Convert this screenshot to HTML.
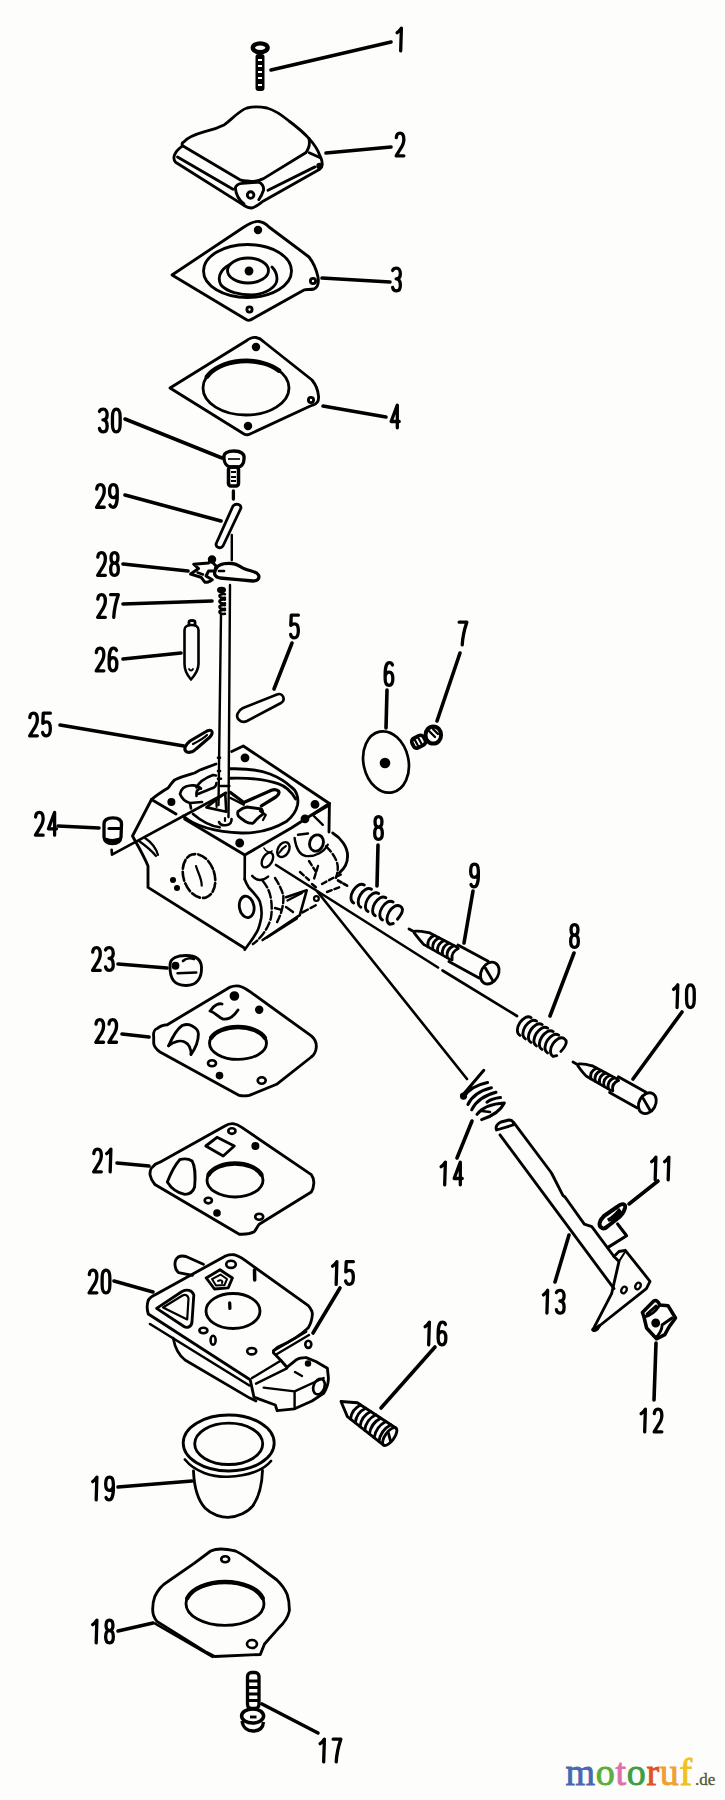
<!DOCTYPE html>
<html><head><meta charset="utf-8"><style>
html,body{margin:0;padding:0;background:#fdfefc;}
body{width:725px;height:1800px;overflow:hidden;}
svg{display:block;}
.l{fill:none;stroke:#000;stroke-width:2.85;stroke-linecap:round;stroke-linejoin:round;}
.t{fill:none;stroke:#000;stroke-width:1.8;stroke-linecap:round;stroke-linejoin:round;}
.k{fill:none;stroke:#000;stroke-width:3.6;stroke-linecap:round;}
.f{fill:#000;}
.n{font-family:"Liberation Sans",sans-serif;font-weight:bold;font-size:30px;fill:#000;}
</style></head><body>
<svg width="725" height="1800" viewBox="0 0 725 1800">
<rect width="725" height="1800" fill="#fdfefc"/>
<!-- PARTS -->
<g id="p1">
<ellipse cx="260.2" cy="47.8" rx="7.4" ry="4.4" fill="none" stroke="#000" stroke-width="4.40"/>
<rect x="255.5" y="54" width="9" height="37" rx="3" fill="#000"/>
<path d="M258,60 h4 M258,66 h4 M258,72 h4 M258,78 h4 M258,85 h4" stroke="#fff" stroke-width="1.76"/>
</g>
<g id="p2" class="l">
<path d="M183.6,142.1 C187,138 193,135 204.7,131.7 C212,130 218,128 224.5,124.7 C232,119 240,110 247,108 C253,106.5 262,107 267,108 C274,110 283,116 289,121 C297,127 304,133 308.9,138.4 C310,143 309.5,148 305.7,152.8 L263.5,178.6 C258,181 251,182 247,181 C244,181 242,180.5 240,179.8 L182.6,145.8 C181.5,144 182,143 183.6,142.1 Z"/>
<path d="M182.6,145.8 C178,149 175.5,152 174.4,155.2 C173.5,158 174,160.5 175.6,162.2 L242.4,204.4 C246,207 249,208 251.8,208 C256,207 259,204 263.5,200.9 L319.7,169.2 C322,167 322.5,166 322,164.5"/>
<path d="M177.5,157 L233,189.2"/>
<path d="M268,190.3 L315,166.9"/>
<path d="M308.9,138.4 C314,144 318,150 320,156 C322,160 322.5,162 322,164.5"/>
<path d="M309.2,152.8 L319.7,157.5"/>
<path d="M235.3,188 C236,185 239,183.5 242.4,183.3 L258.8,182.1 C262,183 264,187 263.5,190.3 C262,195 260,198 258.8,199.7"/>
<path d="M235.3,188 C236,195 240,201 244,204"/>
<circle cx="250.6" cy="195" r="3.3"/>
<circle cx="319.5" cy="166" r="1.8" class="f"/>
</g>
<g id="p3" class="l">
<path d="M172,275 L244,227 C250,223 254,221 259,221.5 C263,222 266,224 269,227 L309,257 C313,262 316,268 318,277 C319,283 318,287 314,289 C310,290 306,289 304,290 L254,318 C251,320 249,321 247,320 Z"/>
<circle cx="258" cy="230" r="2.8" class="f"/>
<circle cx="249.5" cy="309.5" r="2.6"/>
<circle cx="313" cy="281" r="2.6"/>
<ellipse cx="247.5" cy="271" rx="44" ry="26.5"/>
<ellipse cx="248" cy="270.5" rx="20.5" ry="12.5"/>
<path d="M229,265 C220,270 217,278 221,285 C227,292 240,295 252,295 C266,294 277,287 277,279 C277,274 275,270 272,267"/>
<circle cx="249" cy="271" r="3" class="f"/>
</g>
<g id="p4" class="l">
<path d="M170,388 L246,341 C250,338 253,337 256,337.5 C259,338 262,340 264,342 L312,380 C316,385 318,390 318.5,396 C319,401 317,404 313,405 C310,406 308,407 306,408 L250,434 C248,435 246,435 244,434 Z"/>
<circle cx="256" cy="347" r="2.8" class="f"/>
<circle cx="311" cy="400" r="2.6"/>
<circle cx="248" cy="426" r="2.8" class="f"/>
<ellipse cx="246" cy="388" rx="43" ry="27"/>
<path d="M207,376.6 A43,27 0 0 1 279,370.6" stroke-width="4.62"/>
</g>

<g id="p30">
<path d="M224,458 C223,453 228,451 234,451 C241,451 245,454 244,459 C244,464 241,467 238,467 L230,467 C226,466 224,462 224,458 Z" fill="none" stroke="#000" stroke-width="3.30"/>
<path d="M228,459 h12" stroke="#000" stroke-width="1.65"/>
<rect x="228.5" y="467" width="10" height="19" rx="2.5" fill="none" stroke="#000" stroke-width="3.52"/>
<path d="M231,472 h5 M231,477 h5 M231,481 h5" stroke="#000" stroke-width="1.76"/>
<path d="M233.4,491 v8" stroke="#000" stroke-width="3.30" stroke-linecap="round"/>
</g>
<g id="p29" class="l">
<path d="M233,506 C236,503 241,504 241,508 L223,546 C221,549 216,548 216,544 Z" stroke-width="2.8"/>
</g>
<g id="p28" class="l">
<path d="M216,569 C218,564 226,563 232,563.5 C238,564 240,567 245,569 C250,571 256,571 258.5,575 C260,579 257,581 253,581 L238,579.6 L220,578 C215,577 213,574 216,569 Z" stroke-width="3.30"/>
<path d="M219,571 h5" stroke-width="2.64"/>
<path d="M193.7,564.2 L208.6,563 L210.4,560 L216,566 L214.8,571 L208.6,571 L206,576 L212.3,579.7 C210,582 206,582.5 204.8,582.2 L201,577.2 L190.6,574.1 L198.6,568.6 Z" stroke-width="3"/>
<path d="M197.5,572.5 L203,574.5" stroke-width="2.4"/>
<circle cx="212" cy="559.5" r="2.8" class="f"/>
</g>
<g id="rod" class="t">
<path d="M231.8,535 L231.8,560" stroke-width="2.42"/>
<path d="M230,585 L228.5,817" stroke-width="2.42"/>
<path d="M221,614 L218.5,805" stroke-width="2.42"/>
</g>
<g id="p27">
<path d="M225,594.2 C217.5,593.2 217.5,598.8 225,597.8 M225,599.7 C217.5,598.7 217.5,604.3 225,603.3 M225,605.2 C217.5,604.2 217.5,609.8 225,608.8 M225,610.2 C217.5,609.2 217.5,614.8 225,613.8" fill="none" stroke="#000" stroke-width="2.5" stroke-linecap="round"/>
<path d="M218,590 C218,587 225,587 225,590 C225,593 218,593 218,590 Z" fill="#000" stroke="#000" stroke-width="2"/>
</g>
<g id="p26" class="l">
<path d="M184.5,630 C184.5,626.5 188,625 191.5,625 C195,625 198.5,626.5 198.5,630 L198.5,664 C198.5,670 195,675 191,679.5 C187,675 184.5,670 184.5,664 Z" stroke-width="2.6"/>
<path d="M189,625 L189,622 C189,620 195,620 195,622 L195,625" stroke-width="2.86"/>
<path d="M189,669 C190,671 192,671 193,669" stroke-width="1.76"/>
</g>
<g id="p5" class="l">
<path d="M243,708 L277,694.5 C283,692 286,700 281,703 L247,721 C241,724 235,718 238,713 C239,711 241,709 243,708 Z" stroke-width="2.6"/>
</g>
<g id="p25" class="l">
<path d="M187,752 C183,750 185,745 190,741 L207,731 C212,729 214,732 210,737 L196,749 C193,752 190,753 187,752 Z" stroke-width="3.08"/>
<path d="M193,744 C197,742 203,739 207,735" stroke-width="2.20"/>
</g>
<g id="p24" class="l">
<path d="M104,824 C104,819 108,817.8 113,817.8 C118,817.8 121.5,819 121.5,824 L121,837 C120.5,841.5 117,843.5 112.5,843.5 C107.5,843.5 104.5,841.5 104,837 Z" stroke-width="3.30"/>
<path d="M109,828.5 h12" stroke-width="3.08"/>
<path d="M106.5,839.5 C110,841 115,841 119,839.5" stroke-width="3.52"/>
</g>
<g id="p6">
<ellipse cx="386" cy="762" rx="22.5" ry="31" transform="rotate(-12 386 762)" fill="none" stroke="#000" stroke-width="2.7"/>
<circle cx="385" cy="763" r="5.3" fill="#000"/>
</g>
<g id="p7" class="l">
<g transform="translate(420,741) rotate(-28)">
<rect x="-8" y="-5.2" width="13" height="10.4" rx="3.5" stroke-width="3.74"/>
<path d="M-4,-3 L-4,3 M0,-3.5 L0,3.5" stroke-width="2.20"/>
</g>
<ellipse cx="433.3" cy="735" rx="7.8" ry="8.6" stroke-width="3.96"/>
<path d="M429,731 L435,737 M433,729 L438,734" stroke-width="2.42"/>
</g>

<g id="body" class="l">
<!-- top face outline -->
<path d="M151.5,799.5 C158,794 163,791 168,788 C171,784 173,781 175,779.7 C181,777 188,775 194.6,773 C198,771 200,770 201,769.7 L216,764" stroke-width="2.86"/>
<path d="M231.7,751.5 L243.3,746 L329.4,803.5" stroke-width="2.86"/>
<path d="M151.5,799.5 L176,814 M184.6,819 L244.8,855 L291.7,827.7 L329.4,803.5" stroke-width="2.86"/>
<!-- left face -->
<path d="M151.5,799.5 L132.5,836 C138,846 144,856 148,866 L148,887.4 L244.8,948.3" stroke-width="2.86"/>
<path d="M244.8,855 L244.7,879.3" stroke-width="2.64"/>
<path d="M139,841 C146,846 152,851 156,856" stroke-width="2.20"/>
<path d="M145,838 C151,842 156,848 158,855" stroke-width="2.20"/>
<ellipse cx="199" cy="876" rx="15.5" ry="22.5" transform="rotate(-18 199 876)" stroke-width="2.64" stroke-dasharray="9 3"/>
<path d="M196,866 C198,873 202,879 201.7,885.6" stroke-width="2.20"/>
<circle cx="173" cy="880" r="1.6" class="f"/>
<circle cx="177" cy="888" r="1.6" class="f"/>
<ellipse cx="246.7" cy="906.9" rx="7.3" ry="10.8" transform="rotate(-10 246.7 906.9)" stroke-width="2.86"/>
<!-- top face features -->
<circle cx="171.4" cy="802" r="2.6" class="f"/>
<circle cx="245" cy="757.8" r="3" class="f"/>
<circle cx="315" cy="804.4" r="3" class="f"/>
<circle cx="305" cy="818.8" r="3" class="f"/>
<circle cx="239.7" cy="843" r="3" class="f"/>
<path d="M183.2,816 C195,826 215,832 241.5,833 C258,833.4 272,830 286.8,821.2 C292,817 296,812 297.5,805 C299,797 296,790 291.2,787 C286,782 280,778 270,774 C260,770 245,768.5 230.5,768.8" stroke-width="2.86"/>
<path d="M193,814 C200,820 210,826 219.7,827.3" stroke-width="2.64"/>
<path d="M230.5,778.2 C245,777.8 265,779 278,783.7 C285,786 291,791 295.6,799" stroke-width="2.86"/>
<path d="M230.5,792.5 L243.8,802.5 L271.4,790.3 C275,789 279,790 279,792.5 C279,795 277,796 275.8,797 L261.4,805.8" stroke-width="3.30"/>
<path d="M230.5,798 L243.8,804.7" stroke-width="2.42"/>
<path d="M238.2,811.3 C241,809 244,807.5 247,807 L261.4,809 C263,811 263,813 262.5,814.6 C260,816 258,818 257,819 C255,821 254,822.5 252.6,823.4 C250,823.5 247,822.5 244.9,821.2 C242,819 239,817 238.2,815.7 C237.5,814 237.5,812.5 238.2,811.3 Z" stroke-width="2.86"/>
<path d="M260,811 L265.8,815 L263,820" stroke-width="2.20"/>
<path d="M206.4,807.4 L225.2,793 L226.3,811.8 Z" stroke-width="2.64"/>
<path d="M216.4,802 L216.6,807" stroke-width="2.20"/>
<path d="M219,822 C220,825 224,825.5 227,825 C230,824.5 232,822 231.5,819" stroke-width="2.64"/>
<path d="M225,818 L225,821" stroke-width="2.20"/>
<path d="M180,794 C181,789 185,786 190,785.5 C194,785 199,786 201,788.6 M180,794 C182,799 186,802 190,803 L202,802 M196.5,796 C196,792 197,790 199,789 M191,808.5 L190,803" stroke-width="2.64"/>
<path d="M196.5,787.5 C199,782 205,778 213,775 L216,775.5 M197.6,794 C203,792 210,789 214,787.5 C216,786 216.5,784 216.4,783" stroke-width="2.64"/>
<path d="M218,757.7 h2 M218,771 h2 M218,778.7 h3 M220.8,786 h8.5" stroke-width="2.64"/>
<path d="M329,805.5 L312.8,815 L322.8,824.8" stroke-width="2.42"/>
<!-- right face -->
<path d="M329.4,803.5 L329,832" stroke-width="2.86"/>
<ellipse cx="267.4" cy="860" rx="4.8" ry="8" transform="rotate(30 267.4 860)" stroke-width="2.42"/>
<ellipse cx="283.4" cy="849.6" rx="5.5" ry="8" transform="rotate(30 283.4 849.6)" stroke-width="2.42"/>
<path d="M279,853 C281,850 284,847 286,846" stroke-width="1.98"/>
<ellipse cx="316.5" cy="843" rx="6.8" ry="8.3" transform="rotate(20 316.5 843)" stroke-width="2.86"/>
<path d="M294.6,838 C296,848 300,855 306,856 C315,857 324,852 327.7,844.7" stroke-width="2.42"/>
<path d="M298,834.8 L308,833.5" stroke-width="2.42"/>

<path d="M332.7,833 C341,838 347.6,847 347.6,856 C347.6,864 344,869 339.3,872.8" stroke-width="2.86"/>
<path d="M326,846.4 C333,853 337,860 337.7,866 C338,871 337,875 336,877.8" stroke-width="2.42" stroke-dasharray="7 3"/>
<!-- lower right bracket -->
<path d="M244.7,879.3 C246,883 247,885 248.8,887.6 C254,893 258,897 259.8,901.4 C261.5,907 262,913 261.2,918 C260,924 259,928 257,931.7 C254,937 251,941 248.8,944.1 L244.7,949.7" stroke-width="2.64"/>
<path d="M252.2,875.9 C255,879 257,880 259.8,880 C263,880 266,878.5 268.1,876.6" stroke-width="2.42"/>
<path d="M262.6,880.7 C267,886 270,892 270.9,898.6 C272,905 272,912 270.9,918 C269,925 266,930 262.6,934.5 C259,939 256,942 252.9,944.1" stroke-width="2.42" stroke-dasharray="8 3"/>
<path d="M275,878 C279,884 282,890 283.3,895.9 C284,905 281,915 276.4,923.4" stroke-width="2.42" stroke-dasharray="7 3"/>
<path d="M286,897.2 L306.7,890.3 L299.8,915.2 L262.6,940" stroke-width="2.64"/>
<path d="M287.5,900.5 L302,893 M267,937.5 L297,918.5" stroke-width="2.20"/>
<path d="M275,908 L280.5,909.6 M286,907 L293,912" stroke-width="2.42"/>
<circle cx="316.4" cy="898.6" r="2.4" stroke-width="2.20"/>
<path d="M302.6,912.4 L317.8,904.1" stroke-width="2.42" stroke-dasharray="6 3"/>
<path d="M309,861 L316,872 M318,866 L314,879 M312,884 L318,889 M300,872 L309,880" stroke-width="2.42" stroke-dasharray="5 3"/>
<path d="M322,884 L333,878 L342,874 M327,892 L340,887" stroke-width="2.42" stroke-dasharray="5 3"/>
<path d="M338,880.5 L347.6,886" stroke-width="2.64" stroke-dasharray="4 2.5"/>
<path d="M264,848 C266,852 270,853 272,851" stroke-width="1.65"/>
</g>
<g id="axes" class="l">
<path d="M112,854.7 L111.6,849.7 M112,854.7 L226,793" stroke-width="2.64"/>
<path d="M276,865 L438,967.5 M442.5,970.5 L517,1016" stroke-width="2.64"/>
<path d="M317.5,891.7 L467,1079" stroke-width="2.64"/>
</g>

<g id="p14" class="l">
<path d="M462.6,1095.3 L483.8,1070.3 M463.3,1097.6 Q470,1086 487.6,1082.5 M467.9,1104.5 Q474,1092 491.4,1087.8 M471.7,1109.8 Q478,1097 496,1092.3 M486.9,1102.2 Q492,1098.5 500.5,1097.6" stroke-width="3"/>
<path d="M477,1114.3 Q485,1104 504.3,1103 Q499,1114 481.6,1119.6" stroke-width="3"/>
<path d="M481.5,1111 L490,1112" stroke-width="2.6"/>
<circle cx="463.5" cy="1096" r="2.2" class="f"/>
</g>
<g id="p13" class="l">
<path d="M496.5,1130 C495,1126 497,1124 501,1122 L509,1120 C513,1120 514,1123 513,1125 Z" stroke-width="2.86"/>
<path d="M500,1134.8 L614,1288.7" stroke-width="2.86"/>

<path d="M513.6,1122.4 L550.8,1172 L552,1174 L563,1195.6 L565,1197 L584.3,1224.2 L591.8,1226.7 L614,1256.5" stroke-width="2.86"/>
<path d="M614,1256.5 L619,1251.5 L625.3,1250.3 L650,1281.3 L646.4,1288.7 L599.2,1326 L593,1329.7 L611.6,1293.7 L619,1261.4 Z" stroke-width="2.86"/>
<path d="M619,1261.4 L625,1252" stroke-width="1.98"/>
<ellipse cx="624" cy="1290" rx="2.5" ry="3.5" transform="rotate(30 624 1290)" stroke-width="2.42"/>
<ellipse cx="638" cy="1286" rx="2.5" ry="3.5" transform="rotate(30 638 1286)" stroke-width="2.42"/>
<path d="M593,1329.7 C595,1331 597,1330 599.2,1326" stroke-width="3.52"/>
</g>
<g id="p11" class="l">
<path d="M602,1228 C598,1226 599,1221 604,1216 L617,1207 C622,1203 626,1203 625,1208 C624,1212 621,1216 617,1219 L608,1226 C606,1228 604,1229 602,1228 Z" stroke-width="3.96"/>
<path d="M608,1219 C612,1217 616,1213 619,1209 L621,1212 C618,1216 613,1220 609,1221 Z" class="f" stroke-width="1.65"/>
<path d="M617.6,1224 L626.6,1235.7 L608,1247.4" stroke-width="3.08"/>
</g>
<g id="p12" class="l">
<path d="M642.4,1312.4 L654,1300.8 C656,1300 658,1301 659.8,1305 L668,1305.7 L675.5,1318 L669,1327 L664.8,1334.7 L656.5,1338.8 L646.6,1328 L644,1317 Z" stroke-width="3.52"/>
<path d="M647,1314 L656,1306 M644,1317 C650,1316 656,1311 659.8,1305 M662,1325 L672,1318 M656,1338 C660,1333 662,1330 662,1326" stroke-width="2.86"/>
<circle cx="655.7" cy="1323" r="3" class="f"/>
</g>
<g id="p23" class="l">
<path d="M170,965 C170,958 178,955.5 186,955.5 C195,955.5 201,959 201.5,967 C202,978 197,985.5 186,985.5 C175,985.5 169.5,980 170,965 Z" stroke-width="2.86"/>
<path d="M177.6,973.3 L196.2,972.5" stroke-width="2.64"/>
<path d="M183,961 C186,958 191,958 194,959" stroke-width="2.64"/>
<circle cx="175.5" cy="965.7" r="2.5" class="f"/>
</g>

<g id="p22" class="l">
<path d="M153.7,1037 C153,1032 155,1029 157.4,1028.4 C160,1026 163,1025 167.3,1024.7 L229.4,987.4 C233,986 236,985.5 239.3,986.2 C243,987 246,989 249.3,991.2 L311.3,1035.9 C315,1039 316.5,1043 316.3,1047 C316,1052 314,1055 311.3,1057 L276.6,1084.3 L249.3,1095.4 C246,1096 242,1096 239.3,1095.4 L160,1052 C156,1049 154,1046 153.7,1043.3 Z" stroke-width="2.86"/>
<ellipse cx="238" cy="1043.2" rx="28.5" ry="16.2" stroke-width="2.86"/>
<path d="M211.2,1037.7 A28.5,16.2 0 0 1 264.8,1037.7" stroke-width="4.40"/>
<path d="M168.6,1045.8 C172,1038 177,1029 182.2,1025.5 C186,1024 190,1024.5 192.2,1026 C196,1028 198.4,1031 198.4,1034 C198.4,1040 197,1046 191,1054.5" stroke-width="2.86"/>
<path d="M168.6,1045.8 C174,1041 181,1040 184.7,1042 C189,1044 191,1049 191,1054.5" stroke-width="2.64"/>
<path d="M211,1010 C214,1005 219,1003 222,1004 M210,1011 C216,1013 219,1018 223,1019 C229,1020 234,1016 238,1010" stroke-width="2.86"/>
<circle cx="234.4" cy="996" r="3.4" class="f"/>
<circle cx="259.2" cy="1009.8" r="2.8" class="f"/>
<ellipse cx="212" cy="1063.2" rx="4" ry="3" stroke-width="2.64"/>
<circle cx="219.5" cy="1075.6" r="2.4" class="f"/>
<ellipse cx="261.7" cy="1080.5" rx="4" ry="3.2" stroke-width="2.64"/>
</g>
<g id="p21" class="l">
<path d="M150,1174.6 C150,1170 151,1168 152.4,1167.1 C155,1164 157,1163 159.9,1162.2 L224.4,1126.2 C228,1124 230,1123.5 233.1,1123.7 C236,1124 239,1125.5 241.8,1127.4 L311.3,1174.6 C313,1177 314,1180 313.8,1183.3 C313.6,1187 312.5,1190 311.3,1192 L259.2,1224.2 C257,1227 256,1230 254.2,1231.7 C250,1234 244,1234.5 239.3,1234.2 L154.9,1184.5 C152,1181 150.5,1178 150,1174.6 Z" stroke-width="2.86"/>
<ellipse cx="235" cy="1180.2" rx="28" ry="16.8" stroke-width="2.86"/>
<path d="M208.7,1174.5 A28,16.8 0 0 1 261.3,1174.5" stroke-width="4.40"/>
<path d="M179.7,1159.7 C184,1158.5 189,1159 192.1,1161 C195,1166 195.5,1178 194.6,1187 C193,1192 189,1194.4 184.7,1194.4 C178,1193 171,1188 167.3,1182 C170,1175 175,1165 179.7,1159.7 Z" stroke-width="2.86"/>
<path d="M205.8,1146 L217,1137.3 L234.3,1146 L223.2,1156 Z" stroke-width="2.86"/>
<ellipse cx="231.9" cy="1131.1" rx="3.6" ry="2.8" stroke-width="2.64"/>
<circle cx="255.4" cy="1146" r="2.6" class="f"/>
<ellipse cx="208.3" cy="1200.6" rx="3.6" ry="2.8" stroke-width="2.64"/>
<circle cx="217" cy="1213" r="2.4" class="f"/>
<ellipse cx="259.2" cy="1216.8" rx="4" ry="3" stroke-width="2.64"/>
</g>
<g id="p20" class="l">
<path d="M148.3,1300.2 C150,1297 152,1296 155.2,1294.7 L225.5,1256 C228,1255 231,1254.5 233.8,1254.7 C238,1255.5 241,1257.5 244.8,1260.2 L308.3,1305.7 C311,1309 312.4,1311 312.4,1314 C312,1320 310,1325 308.3,1327.8 C300,1336 290,1342 277.9,1347 L273.4,1350.9" stroke-width="2.86"/>
<path d="M148.3,1300.2 C147,1304 147,1310 148.3,1314 L250.2,1379.8 L254,1397.2 L275.3,1405 L277.2,1410.7 L294.6,1408.8 L312,1401 L323.6,1393.4 C327,1388 328.5,1383 328.4,1378 L327.4,1368.3 L315.8,1361.5 L306.2,1357.6 C302,1357.5 299,1358 296.5,1359.6 L286.9,1367.3 L281,1360.5 L273.4,1352.8" stroke-width="2.86"/>
<path d="M150,1324 L249.4,1385.5" stroke-width="2.6"/>
<path d="M173.2,1338.2 C175,1348 180,1356 185,1360 L249.4,1397.8 L256,1401" stroke-width="2.7"/>
<path d="M252,1378 L281,1360.5 M256,1383.7 L286.9,1368.3 M263.7,1387.6 L294.6,1391.4 L323.6,1378 M294.6,1391.4 L294.6,1408.8" stroke-width="2.42"/>
<path d="M273.4,1350.9 L306.2,1331.6 M277,1354 L309,1335" stroke-width="2.42"/>
<path d="M176,1259.5 C178,1256 182,1255.5 186,1256.5 L203.4,1264.3 M178.6,1272.6 C175,1270 174,1263 176,1259.5 M178.6,1272.6 L192.4,1275.3" stroke-width="2.86"/>
<path d="M156.6,1308.4 L182,1291.5 C187,1289 192,1290 193.8,1295 L192,1322 C191.5,1327 187,1328.5 184,1326.5 Z" stroke-width="2.86"/>
<path d="M163,1307.5 L182.5,1295.5 C185.5,1294 188,1295.5 188.5,1298.5 L187.2,1319.5 Z" stroke-width="2.20"/>
<ellipse cx="233" cy="1311" rx="27" ry="17.5" stroke-width="2.86"/>
<path d="M229.7,1303 L229.9,1308.4" stroke-width="3.30"/>
<path d="M206.2,1278 L220,1269.8 L232.4,1278 L228.3,1287.8 L214.5,1289 Z" stroke-width="2.86"/>
<path d="M212,1279 L220.5,1274.5 L227,1279 L224.5,1285 L216,1285.5 Z M218,1281 C221,1279 223,1281 222,1283" stroke-width="1.98"/>
<ellipse cx="231" cy="1264.3" rx="4.8" ry="3.6" stroke-width="2.64"/>
<path d="M254.5,1270 L254.7,1280" stroke-width="3.52"/>
<ellipse cx="203.4" cy="1330.5" rx="4" ry="2.8" stroke-width="2.64"/>
<ellipse cx="213.1" cy="1340.2" rx="2.5" ry="4.5" stroke-width="2.64"/>
<ellipse cx="251.7" cy="1351.2" rx="4.5" ry="3.2" stroke-width="2.64"/>
<ellipse cx="308.3" cy="1344.3" rx="3" ry="3.6" stroke-width="2.64"/>
<ellipse cx="319" cy="1386.6" rx="5.5" ry="8" transform="rotate(20 319 1386.6)" stroke-width="2.64"/>
<path d="M295,1372 L302,1376" stroke-width="2.42"/>
<circle cx="308" cy="1363.4" r="1.8" class="f"/>
</g>
<g id="p19" class="l">
<ellipse cx="228.7" cy="1443" rx="45.5" ry="28" stroke-width="2.86"/>
<ellipse cx="228.7" cy="1443.8" rx="34" ry="20.7" stroke-width="2.86"/>
<path d="M184.9,1459.5 C195,1472 212,1477 228,1476.7 C248,1476 264,1470 271,1461" stroke-width="2.64"/>
<path d="M193.5,1471 C194,1485 197,1499 205,1508 C212,1515 222,1517.4 228,1517.4 C238,1517 248,1512 252.8,1505.9 C259,1497 262,1485 262.5,1470.5" stroke-width="2.86"/>
</g>
<g id="p18" class="l">
<path d="M221,1549 C226,1549 231,1550 235.5,1551 C242,1554 247,1558 252,1561.4 L276.9,1580 C281,1584 285,1589 287.2,1594.5 C289,1600 289.5,1605 289.3,1611 C288,1617 284,1623 279,1627.6 L264.5,1644 L260.3,1654.5 L214.8,1656.5 L206.5,1652.4 L156.9,1621.4 C154,1618 152.5,1614 152.7,1609 C152.7,1604 153.5,1600 154.8,1596.5 C158,1590 162,1585 167.2,1582 L194.1,1563.4 L210.7,1551 C214,1549.5 217,1549 221,1549 Z" stroke-width="2.86"/>
<path d="M154.8,1623.4 L212.7,1657" stroke-width="2.42"/>
<ellipse cx="225" cy="1603.7" rx="39" ry="21.7" stroke-width="2.86"/>
<path d="M187.3,1598.1 A39,21.7 0 0 1 262.7,1598.1" stroke-width="4.40"/>
<ellipse cx="225.2" cy="1559.3" rx="4" ry="3" stroke-width="2.64"/>
<ellipse cx="252" cy="1644" rx="5" ry="4" stroke-width="2.64"/>
</g>
<g id="p17">
<rect x="247.5" y="1672.5" width="11.5" height="36" rx="4" fill="none" stroke="#000" stroke-width="3.30"/>
<path d="M248,1681 h10 M248,1687.5 h10 M248,1694 h10 M248,1700.5 h10" stroke="#000" stroke-width="2.86"/>
<ellipse cx="252.6" cy="1716" rx="11" ry="7" fill="none" stroke="#000" stroke-width="3.52"/>
<path d="M242,1721 C243,1728 248,1731 253,1731 C259,1731 263,1728 263.5,1722" fill="none" stroke="#000" stroke-width="3.30"/>
<path d="M250,1717 h6.5" stroke="#000" stroke-width="2.86"/>
</g>
<g id="p16">
<g transform="translate(341,1401.5) rotate(35.7)">
<path d="M0,0 L14,-8.5 L60,-10.5 M0,0 L14,8.5 L60,10.5" class="l" stroke-width="3"/>
<ellipse cx="60" cy="0" rx="4.5" ry="10.5" class="l"/>
<path d="M18.0,-8.7 Q13.0,0 18.0,8.7 M24.0,-8.9 Q19.0,0 24.0,8.9 M30.0,-9.2 Q25.0,0 30.0,9.2 M36.0,-9.5 Q31.0,0 36.0,9.5 M42.0,-9.7 Q37.0,0 42.0,9.7 M48.0,-10.0 Q43.0,0 48.0,10.0 M54.0,-10.2 Q49.0,0 54.0,10.2" class="l"/>
<path d="M57,-2 L63,3" class="l"/>
</g>
</g>>

<g id="logo" font-family="Liberation Serif, serif">
<text x="565.5" y="1785.3" font-size="38" letter-spacing="0.7" stroke-width="0.88" style="paint-order:stroke"><tspan fill="#4a68b0" stroke="#4a68b0">m</tspan><tspan fill="#5cae3c" stroke="#5cae3c">o</tspan><tspan fill="#e070a8" stroke="#e070a8">t</tspan><tspan fill="#3f9e3f" stroke="#3f9e3f">o</tspan><tspan fill="#e0522c" stroke="#e0522c">r</tspan><tspan fill="#f0a030" stroke="#f0a030">u</tspan><tspan fill="#f0c020" stroke="#f0c020">f</tspan></text>
<text x="695" y="1785.3" font-size="17" fill="#505838" stroke="#505838" stroke-width="0.33">.de</text>
</g>

<path class="l" stroke-width="2.4" d="M364.3,885.0 C356.6,880.4 345.9,898.5 353.7,903.0 M371.5,889.2 C363.8,884.6 353.1,902.7 360.9,907.3 M378.7,893.5 C371.0,888.9 360.3,907.0 368.1,911.6 M385.9,897.7 C378.2,893.2 367.5,911.2 375.3,915.8 M393.1,902.0 C385.4,897.4 374.7,915.5 382.5,920.1 M400.3,906.3 C392.6,901.7 381.9,919.8 389.7,924.3 M400.3,906.3 Q405.8,909.5 397.4,919.2 M389.7,924.3 L393.3,923.5"/>
<g transform="translate(409,929) rotate(28.6)"><path class="l" stroke-width="2.6" d="M0,0 L6.4,0 M6.4,-1 C11.0,-4 15.6,-5 20.2,-6.5 M6.4,1 C11.0,3 15.6,5 20.2,6.5 M20.2,-6.5 L50.6,-7.0 M20.2,6.5 L50.6,7.0 M50.6,-9.5 L85.0,-9.5 M50.6,9.5 L85.0,9.5"/><path class="l" stroke-width="2" d="M25.2,-6.5 Q20.2,0 25.2,6.5 M30.7,-6.5 Q25.7,0 30.7,6.5 M36.2,-6.5 Q31.2,0 36.2,6.5 M41.7,-6.5 Q36.7,0 41.7,6.5 M47.1,-6.5 Q42.1,0 47.1,6.5 M52.6,-6.5 Q47.6,0 52.6,6.5"/><ellipse cx="92.0" cy="0" rx="8.6" ry="11.5" class="l" stroke-width="2.6"/><path class="l" stroke-width="2" d="M85.7,-2.3 L98.3,5.2"/></g>
<path class="l" stroke-width="2.4" d="M531.1,1017.6 C523.5,1012.8 512.3,1030.5 519.9,1035.4 M536.6,1021.1 C529.0,1016.3 517.8,1034.0 525.4,1038.9 M542.2,1024.6 C534.6,1019.8 523.3,1037.5 530.9,1042.4 M547.7,1028.1 C540.1,1023.3 528.8,1041.0 536.4,1045.9 M553.2,1031.6 C545.6,1026.8 534.3,1044.5 541.9,1049.4 M558.7,1035.1 C551.1,1030.3 539.9,1048.0 547.5,1052.9 M564.2,1038.6 C556.6,1033.8 545.4,1051.5 553.0,1056.4 M564.2,1038.6 Q569.5,1042.0 560.9,1051.4 M553.0,1056.4 L556.7,1055.6"/>
<g transform="translate(573,1062) rotate(29)"><path class="l" stroke-width="2.6" d="M0,0 L6.0,0 M6.0,-1 C10.2,-4 14.5,-5 18.7,-6 M6.0,1 C10.2,3 14.5,5 18.7,6 M18.7,-6 L46.8,-6.5 M18.7,6 L46.8,6.5 M46.8,-9 L78.0,-9 M46.8,9 L78.0,9"/><path class="l" stroke-width="2" d="M23.7,-6 Q18.7,0 23.7,6 M28.7,-6 Q23.7,0 28.7,6 M33.7,-6 Q28.7,0 33.7,6 M38.7,-6 Q33.7,0 38.7,6 M43.7,-6 Q38.7,0 43.7,6 M48.8,-6 Q43.8,0 48.8,6"/><ellipse cx="85.0" cy="0" rx="8.2" ry="11.0" class="l" stroke-width="2.6"/><path class="l" stroke-width="2" d="M79.0,-2.2 L91.0,5.0"/></g>
<!-- LABELS -->
<g id="labels">
<g fill="none" stroke="#000" stroke-width="3.3" stroke-linecap="round" stroke-linejoin="round">
<path d="M 397.15,32.69 C 398.79,31.55 400.20,29.97 401.38,28.15 L 400.67,50.85"/>
<path d="M 396.30,137.69 C 396.53,134.74 398.07,133.15 400.00,133.15 C 402.31,133.15 403.85,135.42 403.85,139.51 C 403.85,143.37 402.31,146.32 400.00,149.49 L 396.15,155.85 L 403.85,155.85"/>
<path d="M 392.65,270.42 C 393.42,268.60 394.96,268.15 396.50,268.15 C 398.81,268.15 400.35,270.42 400.35,273.82 C 400.35,277.23 398.81,278.82 396.11,278.82 C 399.19,278.82 400.35,281.77 400.35,285.17 C 400.35,289.03 398.81,290.85 396.50,290.85 C 394.57,290.85 393.03,289.71 392.65,287.44"/>
<path d="M 397.31,427.85 L 397.31,405.15 L 391.15,421.49 L 399.23,421.49"/>
<path d="M 99.45,411.42 C 100.22,409.60 101.76,409.15 103.30,409.15 C 105.61,409.15 107.15,411.42 107.15,414.82 C 107.15,418.23 105.61,419.82 102.92,419.82 C 106.00,419.82 107.15,422.77 107.15,426.17 C 107.15,430.03 105.61,431.85 103.30,431.85 C 101.38,431.85 99.84,430.71 99.45,428.44"/>
<path d="M 116.30,409.15 C 113.22,409.15 112.45,413.69 112.45,417.09 L 112.45,423.90 C 112.45,427.31 113.22,431.85 116.30,431.85 C 119.38,431.85 120.15,427.31 120.15,423.90 L 120.15,417.09 C 120.15,413.69 119.38,409.15 116.30,409.15 Z"/>
<path d="M 96.70,489.09 C 96.94,486.14 98.48,484.55 100.40,484.55 C 102.71,484.55 104.25,486.82 104.25,490.91 C 104.25,494.76 102.71,497.72 100.40,500.89 L 96.55,507.25 L 104.25,507.25"/>
<path d="M 109.94,504.98 C 110.71,506.80 111.86,507.25 113.02,507.25 C 115.71,507.25 117.25,502.71 117.25,495.90 L 117.25,491.36 C 117.25,486.82 115.71,484.55 113.40,484.55 C 111.09,484.55 109.55,486.82 109.55,491.36 C 109.55,495.90 111.09,497.72 113.40,497.72 C 115.33,497.72 116.87,495.90 117.25,493.63"/>
<path d="M 97.80,557.19 C 98.04,554.24 99.58,552.65 101.50,552.65 C 103.81,552.65 105.35,554.92 105.35,559.01 C 105.35,562.87 103.81,565.82 101.50,568.99 L 97.65,575.35 L 105.35,575.35"/>
<path d="M 114.50,563.09 C 111.81,563.09 111.04,560.82 111.04,557.87 C 111.04,554.47 112.58,552.65 114.50,552.65 C 116.43,552.65 117.97,554.47 117.97,557.87 C 117.97,560.82 117.20,563.09 114.50,563.09 C 111.81,563.09 110.65,565.82 110.65,569.22 C 110.65,573.08 112.19,575.35 114.50,575.35 C 116.81,575.35 118.35,573.08 118.35,569.22 C 118.35,565.82 117.20,563.09 114.50,563.09 Z"/>
<path d="M 97.80,599.19 C 98.04,596.24 99.58,594.65 101.50,594.65 C 103.81,594.65 105.35,596.92 105.35,601.01 C 105.35,604.87 103.81,607.82 101.50,610.99 L 97.65,617.35 L 105.35,617.35"/>
<path d="M 110.65,594.65 L 118.35,594.65 C 115.66,602.60 114.12,609.40 113.73,617.35"/>
<path d="M 96.30,652.69 C 96.54,649.74 98.08,648.15 100.00,648.15 C 102.31,648.15 103.85,650.42 103.85,654.51 C 103.85,658.37 102.31,661.32 100.00,664.49 L 96.15,670.85 L 103.85,670.85"/>
<path d="M 116.47,650.42 C 115.70,648.60 114.54,648.15 113.39,648.15 C 110.69,648.15 109.15,652.69 109.15,659.50 L 109.15,664.04 C 109.15,668.58 110.69,670.85 113.00,670.85 C 115.31,670.85 116.85,668.58 116.85,664.04 C 116.85,659.50 115.31,657.68 113.00,657.68 C 111.08,657.68 109.54,659.50 109.15,661.77"/>
<path d="M 298.35,615.15 L 291.27,615.15 L 290.80,625.37 C 291.80,624.23 292.96,623.78 294.50,623.78 C 297.19,623.78 298.35,626.50 298.35,630.59 C 298.35,635.58 296.81,637.85 294.50,637.85 C 292.57,637.85 291.03,636.71 290.65,634.44"/>
<path d="M 29.80,717.69 C 30.04,714.74 31.57,713.15 33.50,713.15 C 35.81,713.15 37.35,715.42 37.35,719.51 C 37.35,723.37 35.81,726.32 33.50,729.49 L 29.65,735.85 L 37.35,735.85"/>
<path d="M 50.35,713.15 L 43.27,713.15 L 42.80,723.37 C 43.80,722.23 44.96,721.78 46.50,721.78 C 49.20,721.78 50.35,724.50 50.35,728.59 C 50.35,733.58 48.81,735.85 46.50,735.85 C 44.57,735.85 43.03,734.71 42.65,732.44"/>
<path d="M 35.60,816.99 C 35.83,814.04 37.37,812.45 39.30,812.45 C 41.61,812.45 43.15,814.72 43.15,818.81 C 43.15,822.66 41.61,825.62 39.30,828.79 L 35.45,835.15 L 43.15,835.15"/>
<path d="M 54.61,835.15 L 54.61,812.45 L 48.45,828.79 L 56.53,828.79"/>
<path d="M 392.46,664.92 C 391.69,663.10 390.54,662.65 389.38,662.65 C 386.69,662.65 385.15,667.19 385.15,674.00 L 385.15,678.54 C 385.15,683.08 386.69,685.35 389.00,685.35 C 391.31,685.35 392.85,683.08 392.85,678.54 C 392.85,674.00 391.31,672.18 389.00,672.18 C 387.07,672.18 385.53,674.00 385.15,676.27"/>
<path d="M 459.15,622.15 L 466.85,622.15 C 464.15,630.10 462.61,636.90 462.23,644.85"/>
<path d="M 378.50,827.09 C 375.80,827.09 375.03,824.82 375.03,821.87 C 375.03,818.47 376.57,816.65 378.50,816.65 C 380.42,816.65 381.96,818.47 381.96,821.87 C 381.96,824.82 381.19,827.09 378.50,827.09 C 375.80,827.09 374.65,829.82 374.65,833.22 C 374.65,837.08 376.19,839.35 378.50,839.35 C 380.81,839.35 382.35,837.08 382.35,833.22 C 382.35,829.82 381.19,827.09 378.50,827.09 Z"/>
<path d="M 471.03,884.58 C 471.80,886.40 472.96,886.85 474.11,886.85 C 476.81,886.85 478.35,882.31 478.35,875.50 L 478.35,870.96 C 478.35,866.42 476.81,864.15 474.50,864.15 C 472.19,864.15 470.65,866.42 470.65,870.96 C 470.65,875.50 472.19,877.32 474.50,877.32 C 476.42,877.32 477.96,875.50 478.35,873.23"/>
<path d="M 574.50,935.09 C 571.80,935.09 571.03,932.82 571.03,929.87 C 571.03,926.47 572.57,924.65 574.50,924.65 C 576.42,924.65 577.97,926.47 577.97,929.87 C 577.97,932.82 577.19,935.09 574.50,935.09 C 571.80,935.09 570.65,937.82 570.65,941.22 C 570.65,945.08 572.19,947.35 574.50,947.35 C 576.81,947.35 578.35,945.08 578.35,941.22 C 578.35,937.82 577.19,935.09 574.50,935.09 Z"/>
<path d="M 673.55,989.39 C 675.19,988.25 676.60,986.67 677.78,984.85 L 677.07,1007.55"/>
<path d="M 690.40,984.85 C 687.32,984.85 686.55,989.39 686.55,992.80 L 686.55,999.61 C 686.55,1003.01 687.32,1007.55 690.40,1007.55 C 693.48,1007.55 694.25,1003.01 694.25,999.61 L 694.25,992.80 C 694.25,989.39 693.48,984.85 690.40,984.85 Z"/>
<path d="M 441.15,1166.69 C 442.79,1165.56 444.20,1163.97 445.38,1162.15 L 444.67,1184.85"/>
<path d="M 460.31,1184.85 L 460.31,1162.15 L 454.15,1178.49 L 462.23,1178.49"/>
<path d="M 543.40,1294.89 C 545.04,1293.76 546.45,1292.17 547.63,1290.35 L 546.92,1313.05"/>
<path d="M 556.40,1292.62 C 557.17,1290.80 558.71,1290.35 560.25,1290.35 C 562.56,1290.35 564.10,1292.62 564.10,1296.03 C 564.10,1299.43 562.56,1301.02 559.87,1301.02 C 562.94,1301.02 564.10,1303.97 564.10,1307.38 C 564.10,1311.23 562.56,1313.05 560.25,1313.05 C 558.32,1313.05 556.78,1311.92 556.40,1309.65"/>
<path d="M 651.65,1161.69 C 653.29,1160.56 654.70,1158.97 655.88,1157.15 L 655.17,1179.85"/>
<path d="M 664.65,1161.69 C 666.29,1160.56 667.70,1158.97 668.88,1157.15 L 668.17,1179.85"/>
<path d="M 641.15,1413.69 C 642.79,1412.56 644.20,1410.97 645.38,1409.15 L 644.67,1431.85"/>
<path d="M 654.30,1413.69 C 654.53,1410.74 656.07,1409.15 658.00,1409.15 C 660.31,1409.15 661.85,1411.42 661.85,1415.51 C 661.85,1419.37 660.31,1422.32 658.00,1425.49 L 654.15,1431.85 L 661.85,1431.85"/>
<path d="M 425.15,1326.69 C 426.79,1325.56 428.20,1323.97 429.38,1322.15 L 428.67,1344.85"/>
<path d="M 445.46,1324.42 C 444.69,1322.60 443.54,1322.15 442.38,1322.15 C 439.69,1322.15 438.15,1326.69 438.15,1333.50 L 438.15,1338.04 C 438.15,1342.58 439.69,1344.85 442.00,1344.85 C 444.31,1344.85 445.85,1342.58 445.85,1338.04 C 445.85,1333.50 444.31,1331.68 442.00,1331.68 C 440.07,1331.68 438.53,1333.50 438.15,1335.77"/>
<path d="M 92.70,952.19 C 92.94,949.24 94.48,947.65 96.40,947.65 C 98.71,947.65 100.25,949.92 100.25,954.01 C 100.25,957.87 98.71,960.82 96.40,963.99 L 92.55,970.35 L 100.25,970.35"/>
<path d="M 105.55,949.92 C 106.32,948.10 107.86,947.65 109.40,947.65 C 111.71,947.65 113.25,949.92 113.25,953.32 C 113.25,956.73 111.71,958.32 109.02,958.32 C 112.10,958.32 113.25,961.27 113.25,964.67 C 113.25,968.53 111.71,970.35 109.40,970.35 C 107.48,970.35 105.94,969.21 105.55,966.94"/>
<path d="M 96.00,1024.09 C 96.24,1021.14 97.78,1019.55 99.70,1019.55 C 102.01,1019.55 103.55,1021.82 103.55,1025.91 C 103.55,1029.77 102.01,1032.72 99.70,1035.89 L 95.85,1042.25 L 103.55,1042.25"/>
<path d="M 109.00,1024.09 C 109.24,1021.14 110.78,1019.55 112.70,1019.55 C 115.01,1019.55 116.55,1021.82 116.55,1025.91 C 116.55,1029.77 115.01,1032.72 112.70,1035.89 L 108.85,1042.25 L 116.55,1042.25"/>
<path d="M 93.80,1153.69 C 94.04,1150.74 95.58,1149.15 97.50,1149.15 C 99.81,1149.15 101.35,1151.42 101.35,1155.51 C 101.35,1159.37 99.81,1162.32 97.50,1165.49 L 93.65,1171.85 L 101.35,1171.85"/>
<path d="M 106.65,1153.69 C 108.30,1152.56 109.71,1150.97 110.88,1149.15 L 110.18,1171.85"/>
<path d="M 89.30,1274.69 C 89.54,1271.74 91.08,1270.15 93.00,1270.15 C 95.31,1270.15 96.85,1272.42 96.85,1276.51 C 96.85,1280.37 95.31,1283.32 93.00,1286.49 L 89.15,1292.85 L 96.85,1292.85"/>
<path d="M 106.00,1270.15 C 102.92,1270.15 102.15,1274.69 102.15,1278.10 L 102.15,1284.91 C 102.15,1288.31 102.92,1292.85 106.00,1292.85 C 109.08,1292.85 109.85,1288.31 109.85,1284.91 L 109.85,1278.10 C 109.85,1274.69 109.08,1270.15 106.00,1270.15 Z"/>
<path d="M 332.65,1266.19 C 334.29,1265.06 335.70,1263.47 336.88,1261.65 L 336.17,1284.35"/>
<path d="M 353.35,1261.65 L 346.27,1261.65 L 345.80,1271.87 C 346.80,1270.73 347.96,1270.28 349.50,1270.28 C 352.19,1270.28 353.35,1273.00 353.35,1277.09 C 353.35,1282.08 351.81,1284.35 349.50,1284.35 C 347.57,1284.35 346.03,1283.22 345.65,1280.95"/>
<path d="M 92.65,1481.69 C 94.30,1480.56 95.71,1478.97 96.88,1477.15 L 96.18,1499.85"/>
<path d="M 106.04,1497.58 C 106.81,1499.40 107.96,1499.85 109.12,1499.85 C 111.81,1499.85 113.35,1495.31 113.35,1488.50 L 113.35,1483.96 C 113.35,1479.42 111.81,1477.15 109.50,1477.15 C 107.19,1477.15 105.65,1479.42 105.65,1483.96 C 105.65,1488.50 107.19,1490.32 109.50,1490.32 C 111.43,1490.32 112.97,1488.50 113.35,1486.23"/>
<path d="M 92.65,1624.69 C 94.30,1623.56 95.71,1621.97 96.88,1620.15 L 96.18,1642.85"/>
<path d="M 109.50,1630.59 C 106.81,1630.59 106.04,1628.32 106.04,1625.37 C 106.04,1621.97 107.58,1620.15 109.50,1620.15 C 111.43,1620.15 112.97,1621.97 112.97,1625.37 C 112.97,1628.32 112.20,1630.59 109.50,1630.59 C 106.81,1630.59 105.65,1633.32 105.65,1636.72 C 105.65,1640.58 107.19,1642.85 109.50,1642.85 C 111.81,1642.85 113.35,1640.58 113.35,1636.72 C 113.35,1633.32 112.20,1630.59 109.50,1630.59 Z"/>
<path d="M 320.15,1743.69 C 321.79,1742.56 323.20,1740.97 324.38,1739.15 L 323.67,1761.85"/>
<path d="M 333.15,1739.15 L 340.85,1739.15 C 338.15,1747.10 336.61,1753.91 336.23,1761.85"/>
</g>
</g>
<!-- LEADERS -->
<g id="leaders" class="k">
<path d="M271,70 L391,42"/>
<path d="M326,153 L391,147"/>
<path d="M322,278 L390,282"/>
<path d="M323,406 L386,417"/>
<path d="M125,419 L222,458"/>
<path d="M125,495 L221,521"/>
<path d="M123,564 L188,571"/>
<path d="M123,604 L212,601"/>
<path d="M123,659 L181,653"/>
<path d="M292,643 L274,689"/>
<path d="M60,725 L184,746"/>
<path d="M58,826 L99,828"/>
<path d="M387,690 L386,728"/>
<path d="M460,653 L437,721"/>
<path d="M378,845 L377,886"/>
<path d="M473,891 L464,943"/>
<path d="M574,953 L550,1016"/>
<path d="M682,1012 L633,1079"/>
<path d="M472,1121 L457,1158"/>
<path d="M569,1235 L555,1282"/>
<path d="M658,1181 L629,1204"/>
<path d="M656,1343 L654,1400"/>
<path d="M435,1347 L381,1408"/>
<path d="M118,964 L167,968"/>
<path d="M122,1034 L149,1037"/>
<path d="M117,1163 L149,1166"/>
<path d="M114,1281 L153,1292"/>
<path d="M340,1288 L313,1333"/>
<path d="M118,1487 L192,1481"/>
<path d="M118,1631 L153,1623"/>
<path d="M262,1704 L318,1733"/>
</g>
</svg>
</body></html>
